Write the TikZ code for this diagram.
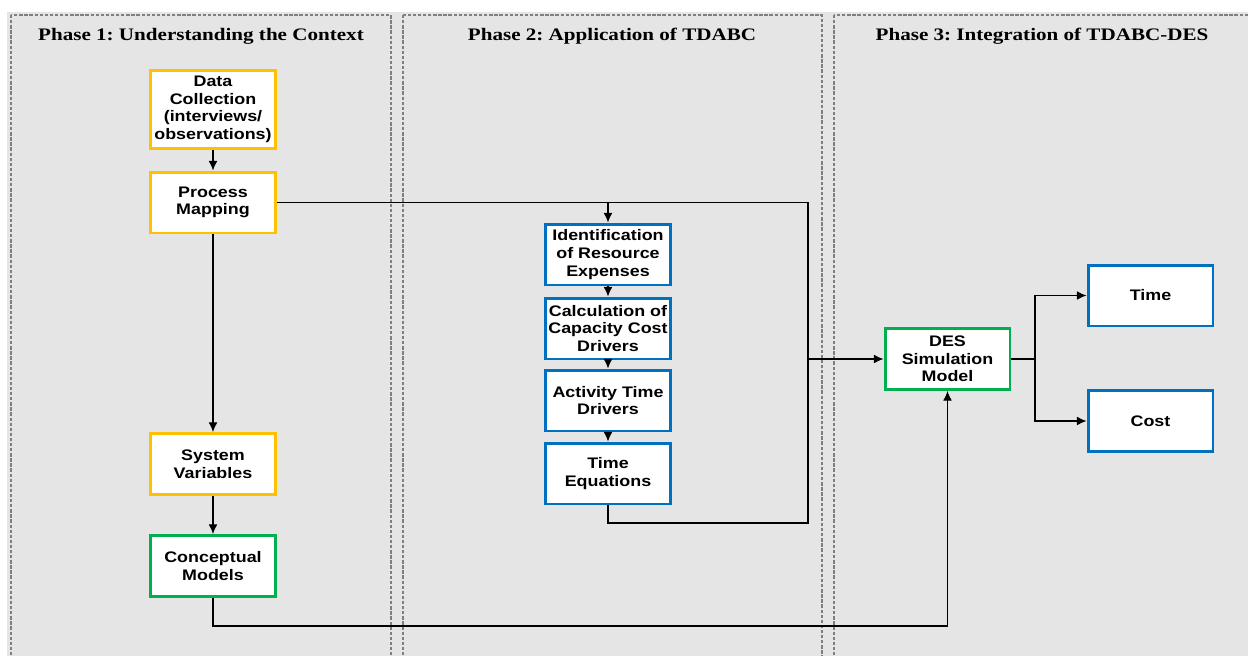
\documentclass[tikz,border=0pt]{standalone}
\usepackage{fontspec}
\setmainfont{Liberation Serif}[FakeStretch=1.2]
\newfontfamily\boxfont{Liberation Sans}[FakeStretch=1.17]
\usetikzlibrary{arrows.meta}
\definecolor{panelgray}{HTML}{E5E5E5}
\definecolor{dashgray}{HTML}{7F7F7F}
\definecolor{ctxyellow}{HTML}{FFC000}
\definecolor{modelgreen}{HTML}{00B050}
\definecolor{costblue}{HTML}{0070C0}
\frenchspacing
\begin{document}
\begin{tikzpicture}[x=0.02cm, y=-0.02cm,
    phase/.style={draw=dashgray, line width=1.5pt, dash pattern=on 1.9pt off 1pt},
    phasetitle/.style={font=\fontsize{10}{12}\selectfont\bfseries},
    box/.style={draw, fill=white, line width=1.7pt, minimum width=2.5cm, minimum height=1.22cm,
      align=center, inner sep=1pt, font=\boxfont\fontsize{8.7}{10}\selectfont\bfseries},
    yellowbox/.style={box, draw=ctxyellow},
    greenbox/.style={box, draw=modelgreen},
    bluebox/.style={box, draw=costblue},
    link/.style={line width=0.6pt},
    arr/.style={link, -{Latex[length=5.5pt, width=5pt]}}]
    \useasboundingbox (0,0) rectangle (1248,656);
    \clip (0,0) rectangle (1248,656);

    % Phase panels
    \fill[panelgray] (7,12) rectangle (1260,670);
    \draw[phase] (11,15) rectangle (391,670);
    \draw[phase] (403,15) rectangle (822,670);
    \draw[phase] (834,15) rectangle (1270,670);
    \node[phasetitle] (t1) at (201,36) {Phase 1: Understanding the Context};
    \node[phasetitle] (t2) at (612,36) {Phase 2: Application of TDABC};
    \node[phasetitle] (t3) at (1042,36) {Phase 3: Integration of TDABC-DES};

    % Phase 1
    \node[yellowbox, minimum height=1.56cm] (data) at (213,109.5) {Data\\Collection\\(interviews/\\observations)};
    \node[yellowbox] (proc) at (213,202.5) {Process\\Mapping};
    \node[yellowbox] (sysvar) at (213,464) {System\\Variables};
    \node[greenbox] (concept) at (213,566) {Conceptual\\Models};

    % Phase 2
    \node[bluebox] (ident) at (608,254.5) {Identification\\of Resource\\Expenses};
    \node[bluebox] (calc) at (608,328.5) {Calculation of\\Capacity Cost\\Drivers};
    \node[bluebox] (activ) at (608,400.5) {Activity Time\\Drivers};
    \node[bluebox] (teq) at (608,473.5) {Time\\Equations};

    % Phase 3
    \node[greenbox] (des) at (947.5,359) {DES\\Simulation\\Model};
    \node[bluebox] (time) at (1150.5,295.5) {Time};
    \node[bluebox] (cost) at (1150.5,421) {Cost};

    % Connectors
    \coordinate (busTop) at (808,202.5);
    \coordinate (busBot) at (808,523);
    \coordinate (split) at (ident.north |- proc.east);
    \coordinate (low) at (213,626);
    \coordinate (fork) at (1035,359);

    \draw[arr] (data) -- (proc);
    \draw[arr] (proc) -- (sysvar);
    \draw[arr] (sysvar) -- (concept);
    \draw[link] (proc.east) -- (busTop) -- (busBot) -| (teq.south);
    \draw[arr] (split) -- (ident.north);
    \draw[arr] (ident) -- (calc);
    \draw[arr] (calc) -- (activ);
    \draw[arr] (activ) -- (teq);
    \draw[arr] (busTop |- des.west) -- (des.west);
    \draw[arr] (concept.south) -- (low) -| (des.south);
    \draw[link] (des.east) -- (fork);
    \draw[arr] (fork) |- (time.west);
    \draw[arr] (fork) |- (cost.west);
\end{tikzpicture}
\end{document}
